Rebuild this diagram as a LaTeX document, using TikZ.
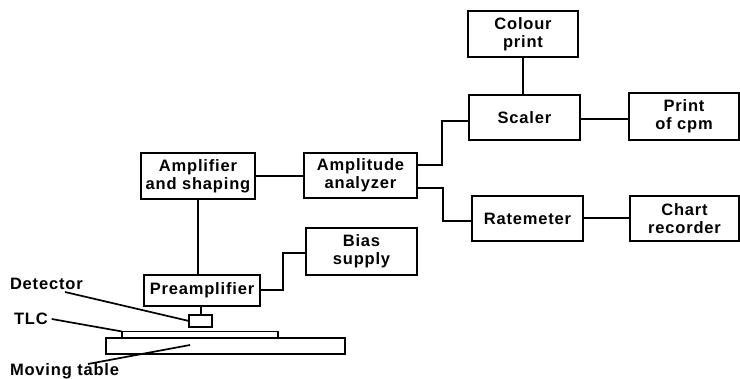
\documentclass[tikz,border=0pt]{standalone}
\usepackage{fontspec}
\setmainfont[LetterSpace=5]{Liberation Sans}
\begin{document}
\begin{tikzpicture}[x=1pt,y=-1pt,
  every node/.style={inner sep=0pt,outer sep=0pt},
  blockbox/.style={draw,line width=2pt,align=center,font=\bfseries\fontsize{16.5}{18}\selectfont},
  plain/.style={draw,line width=1.7pt},
  wire/.style={line width=2pt,line join=miter},
  lead/.style={line width=1.7pt},
  tag/.style={font=\bfseries\fontsize{16.5}{18}\selectfont,anchor=west}]
\useasboundingbox (0,0) rectangle (740,379);
\node[blockbox,minimum width=110pt,minimum height=46pt] (colour) at (523,34) {Colour\\print};
\node[blockbox,minimum width=111pt,minimum height=45pt] (scaler) at (524.5,117.5) {Scaler};
\node[blockbox,minimum width=110pt,minimum height=47pt] (printc) at (684,116.5) {Print\\of cpm};
\node[blockbox,minimum width=111pt,minimum height=45pt] (rate) at (527.5,218.5) {Ratemeter};
\node[blockbox,minimum width=109pt,minimum height=45pt] (chart) at (684.5,218.5) {Chart\\recorder};
\node[blockbox,minimum width=113pt,minimum height=45pt] (ana) at (360.5,175.5) {Amplitude\\analyzer};
\node[blockbox,minimum width=114pt,minimum height=46pt] (amp) at (198,176) {Amplifier\\and shaping};
\node[blockbox,minimum width=111pt,minimum height=47pt] (bias) at (361.5,251.5) {Bias\\supply};
\node[blockbox,minimum width=116pt,minimum height=31pt] (pre) at (202,290.5) {Preamplifier};
\node[plain,minimum width=23pt,minimum height=12pt] (det) at (200.5,321) {};
\node[plain,minimum width=156pt,minimum height=6pt] (tlc) at (200,334.5) {};
\node[plain,minimum width=239pt,minimum height=16pt] (table) at (225.5,346) {};
\node[tag] (ldet) at (10,284) {Detector};
\node[tag] (ltlc) at (14,319) {TLC};
\node[tag] (ltab) at (10,371) {Moving table};
\coordinate (tabend) at (190,345);
\coordinate (detend) at (65,292);
\coordinate (mvend) at (88,364);
\coordinate (anaup) at ([yshift=-12pt]ana.north east);
\coordinate (anadown) at ([yshift=-35pt]ana.north east);
\coordinate (scin) at ([yshift=-3.5pt]scaler.west);
\coordinate (rain) at ([yshift=-2.5pt]rate.west);
\coordinate (biin) at ([yshift=-1.5pt]bias.west);
\coordinate (scout) at ([yshift=-1.5pt]scaler.east);
\draw[wire] (colour.south) -- (colour.south |- scaler.north);
\draw[wire] (scout) -- (scout -| printc.west);
\draw[wire] (rate.east) -- (rate.east -| chart.west);
\draw[wire] (amp.east) -- (amp.east -| ana.west);
\draw[wire] (amp.south) -- (amp.south |- pre.north);
\draw[wire] (pre.south -| det.north) -- (det.north);
\draw[wire] (anaup) -- ++(25,0) |- (scin);
\draw[wire] (anadown) -- ++(26,0) |- (rain);
\draw[wire] (pre.east) -- ++(23,0) |- (biin);
\draw[lead] (detend) -- (det.west);
\draw[lead] (ltlc.east) ++(4,0) -- (tlc.north west);
\draw[lead] (mvend) -- (tabend);
\end{tikzpicture}
\end{document}
